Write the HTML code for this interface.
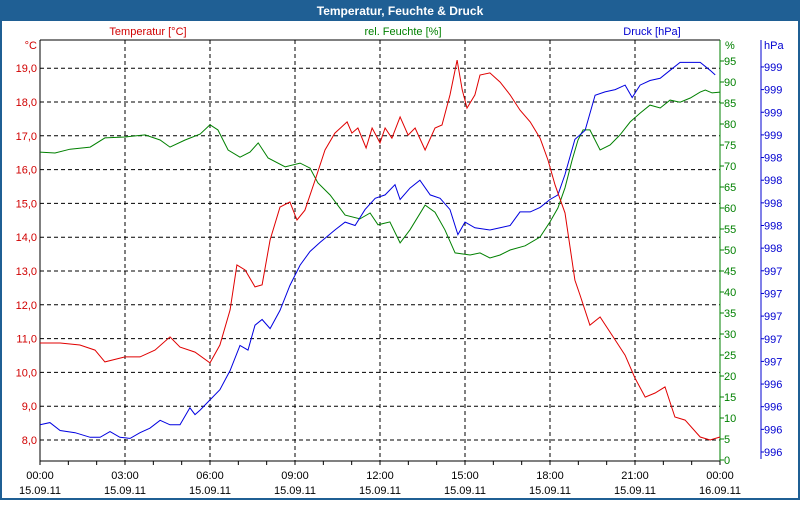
<!DOCTYPE html>
<html><head><meta charset="utf-8"><style>
body{margin:0;width:800px;height:500px;overflow:hidden;background:#fff;font-family:"Liberation Sans",sans-serif}
</style></head><body>
<svg id="chart" width="800" height="500" xmlns="http://www.w3.org/2000/svg" font-family="Liberation Sans, sans-serif" font-size="11">
<rect x="1" y="1" width="798" height="498" fill="#fff" stroke="#1f5f94" stroke-width="2"/>
<rect x="0" y="0" width="800" height="21" fill="#1f5f94"/>
<text x="400" y="15" fill="#fff" font-weight="bold" font-size="12" text-anchor="middle">Temperatur, Feuchte &amp; Druck</text>
<text x="148" y="35" fill="#d00000" text-anchor="middle">Temperatur [°C]</text>
<text x="403" y="35" fill="#008000" text-anchor="middle">rel. Feuchte [%]</text>
<text x="652" y="35" fill="#0000d0" text-anchor="middle">Druck [hPa]</text>
<text x="37" y="49" fill="#d00000" text-anchor="end">°C</text>
<text x="725" y="49" fill="#008000">%</text>
<text x="764" y="49" fill="#0000d0">hPa</text>
<g id="grid"></g><g id="axes"></g><g id="series"></g>
</svg>
<script>
const tempHours=[0,0.71,1.41,1.94,2.29,3,3.53,4.06,4.59,4.94,5.47,6,6.35,6.71,6.95,7.24,7.59,7.84,8.12,8.47,8.82,9.07,9.35,9.71,10.06,10.41,10.84,11.01,11.22,11.51,11.72,12,12.18,12.42,12.71,12.99,13.24,13.59,13.94,14.19,14.47,14.72,14.9,15.07,15.35,15.53,15.88,16.24,16.59,16.94,17.3,17.65,17.93,18.18,18.53,18.88,19.06,19.41,19.77,20.3,20.65,21,21.36,21.71,22.06,22.41,22.77,23.3,23.65,24];
const tempValues=[10.87,10.87,10.81,10.66,10.31,10.46,10.46,10.66,11.05,10.75,10.6,10.28,10.81,11.85,13.18,13.03,12.53,12.59,13.92,14.89,15.04,14.51,14.8,15.69,16.58,17.08,17.41,17.08,17.23,16.64,17.23,16.79,17.23,16.93,17.56,17.02,17.23,16.58,17.23,17.32,18.21,19.24,18.36,17.82,18.21,18.8,18.86,18.59,18.21,17.76,17.41,16.93,16.28,15.54,14.72,12.73,12.29,11.4,11.64,10.96,10.51,9.83,9.27,9.39,9.57,8.68,8.59,8.09,8.0,8.09];
const humHours=[0,0.53,1.06,1.77,2.29,3,3.71,4.24,4.59,5.12,5.65,6,6.28,6.64,7.06,7.41,7.7,8.05,8.65,9.18,9.53,9.81,10.24,10.77,11.29,11.65,11.93,12.35,12.71,13.06,13.59,13.94,14.29,14.65,15.18,15.53,15.88,16.24,16.59,17.12,17.65,18,18.28,18.53,18.78,18.99,19.17,19.41,19.77,20.12,20.47,20.83,21.18,21.53,21.89,22.24,22.59,22.95,23.3,23.48,23.72,24];
const humValues=[73.3,73.1,74,74.5,76.7,76.9,77.4,76.2,74.5,76.2,77.6,79.8,78.6,73.8,72.1,73.3,75.5,71.9,69.8,70.7,69.5,66,63.1,58.3,57.4,58.8,56,56.7,51.7,54.8,60.7,59,54.8,49.3,48.8,49.3,48.1,48.8,50,51,53.1,56.7,60,64.8,71.4,76.2,78.6,78.6,73.8,75,77.4,80.5,82.6,84.5,83.8,85.7,85.2,86.2,87.6,88.1,87.4,87.6];
const presHours=[0,0.35,0.71,1.24,1.77,2.12,2.47,2.82,3.18,3.53,3.88,4.24,4.59,4.94,5.29,5.47,5.65,6,6.35,6.71,7.06,7.34,7.59,7.84,8.12,8.47,8.82,9.18,9.53,9.88,10.41,10.77,11.12,11.47,11.83,12.18,12.53,12.71,13.06,13.41,13.77,14.12,14.47,14.75,15,15.35,15.88,16.24,16.59,16.94,17.3,17.65,18,18.28,18.53,18.88,19.24,19.59,19.94,20.3,20.65,20.9,21.18,21.53,21.89,22.24,22.59,22.95,23.3,23.65,23.83];
const presValues=[996.04,996.06,995.99,995.97,995.93,995.93,995.98,995.93,995.92,995.97,996.01,996.08,996.04,996.04,996.19,996.13,996.17,996.26,996.35,996.52,996.74,996.7,996.92,996.97,996.89,997.05,997.27,997.45,997.57,997.65,997.76,997.83,997.8,997.94,998.04,998.07,998.16,998.03,998.13,998.2,998.07,998.04,997.94,997.72,997.83,997.78,997.76,997.78,997.8,997.92,997.92,997.96,998.03,998.07,998.25,998.56,998.64,998.95,998.98,999.0,999.04,998.93,999.04,999.08,999.1,999.17,999.24,999.24,999.24,999.17,999.13];
const tempTicks=[8,9,10,11,12,13,14,15,16,17,18,19];
const humTicks=[0,5,10,15,20,25,30,35,40,45,50,55,60,65,70,75,80,85,90,95];
const presTicks=[995.8,996.0,996.2,996.4,996.6,996.8,997.0,997.2,997.4,997.6,997.8,998.0,998.2,998.4,998.6,998.8,999.0,999.2];
const timeTicks=[0,3,6,9,12,15,18,21,24];
const timeLabels=["00:00","03:00","06:00","09:00","12:00","15:00","18:00","21:00","00:00"];
const dateLabels=["15.09.11","15.09.11","15.09.11","15.09.11","15.09.11","15.09.11","15.09.11","15.09.11","16.09.11"];

const L=40,R=720,T=40,B=461;
const xS=h=>L+h*(R-L)/24;
const yT=t=>440-(t-8)*33.8;
const yH=v=>460-v*4.2;
const yP=p=>452-(p-995.8)/0.2*22.65;
const NS="http://www.w3.org/2000/svg";
function mk(tag,parent,attrs){const e=document.createElementNS(NS,tag);for(const k in attrs)e.setAttribute(k,attrs[k]);parent.appendChild(e);return e;}
const grid=document.getElementById('grid'),axes=document.getElementById('axes'),ser=document.getElementById('series');

tempTicks.forEach(t=>{
  const y=yT(t);
  if(t>8||true){const g=mk('line',grid,{x1:L,x2:R,y1:y,y2:y,stroke:'#000','stroke-dasharray':'4,3'});
  
  }
  const tx=mk('text',axes,{x:37,y:y+4,fill:'#d00000','text-anchor':'end'});
  tx.textContent=t.toFixed(1).replace('.',',');
  
  
});
timeTicks.forEach((h,i)=>{
  const x=xS(h);
  if(i>0&&i<timeTicks.length-1){const g=mk('line',grid,{x1:x,x2:x,y1:T,y2:B,stroke:'#000','stroke-dasharray':'4,3'});
  
  }
  const a=mk('text',axes,{x:x,y:479,fill:'#000','text-anchor':'middle'});a.textContent=timeLabels[i];
  
  
  const d=mk('text',axes,{x:x,y:494,fill:'#000','text-anchor':'middle'});d.textContent=dateLabels[i];
  
  
});
for(let h=0;h<=24;h++){const t=mk('line',axes,{x1:xS(h),x2:xS(h),y1:B,y2:B+4,stroke:'#000'});
  
  }
let ax=mk('line',axes,{x1:L,x2:L,y1:T,y2:B,stroke:'#000'});


ax=mk('line',axes,{x1:L,x2:R,y1:T,y2:T,stroke:'#000'});


ax=mk('line',axes,{x1:L,x2:R,y1:B,y2:B,stroke:'#000'});


ax=mk('line',axes,{x1:R,x2:R,y1:T,y2:B,stroke:'#008000'});


ax=mk('line',axes,{x1:761,x2:761,y1:T,y2:459,stroke:'#0000d0'});


humTicks.forEach(v=>{
  const y=yH(v);
  const t=mk('line',axes,{x1:R,x2:R+4,y1:y,y2:y,stroke:'#008000'});
  
  
  const tx=mk('text',axes,{x:R+4,y:y+4,fill:'#008000'});tx.textContent=v;
  
  
});
presTicks.forEach(p=>{
  const y=yP(p);
  const t=mk('line',axes,{x1:761,x2:764,y1:y,y2:y,stroke:'#0000d0'});
  
  
  const tx=mk('text',axes,{x:764,y:y+4,fill:'#0000d0'});tx.textContent=Math.round(p);
  
  
});
function line(hs,vs,yf,col,name){
  const d=hs.map((h,i)=>(i?'L':'M')+xS(h).toFixed(1)+','+yf(vs[i]).toFixed(1)).join('');
  const p=mk('path',ser,{d:d,fill:'none',stroke:col,'stroke-width':1});
  
  
}
line(humHours,humValues,yH,'#008000','humidity-line');
line(presHours,presValues,yP,'#0000e0','pressure-line');
line(tempHours,tempValues,yT,'#e00000','temperature-line');
</script>
</body></html>
